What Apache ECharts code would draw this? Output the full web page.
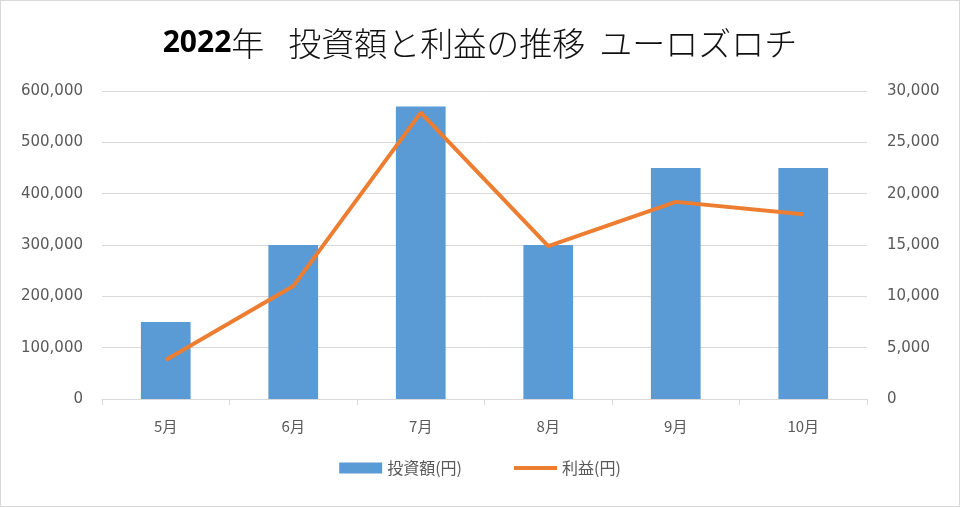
<!DOCTYPE html>
<html>
<head>
<meta charset="utf-8">
<script src="https://cdn.jsdelivr.net/npm/echarts@6/dist/echarts.min.js"></script>
<style>
html,body{margin:0;padding:0;background:#fff;}
#c{width:960px;height:507px;box-sizing:border-box;border:1px solid #d9d9d9;}
</style>
</head>
<body>
<div id="c"></div>
<script>
const categories = ['5月','6月','7月','8月','9月','10月'];
const investment = [150000, 300000, 570000, 300000, 450000, 450000];
const profit = [3800, 11000, 27900, 14900, 19200, 18000];
const leftTicks = {min: 0, max: 600000, interval: 100000};
const rightTicks = {min: 0, max: 30000, interval: 5000};

const font = '"Noto Sans CJK JP", "Noto Sans", sans-serif';
const numFont = '"DejaVu Sans", sans-serif';
const chart = echarts.init(document.getElementById('c'), null, {renderer: 'canvas'});
const fmt = v => v.toLocaleString('en-US');
chart.setOption({
  animation: false,
  textStyle: {fontFamily: font},
  title: {
    text: '{b|2022}{n|年}{g1|}{n|投資額と利益の推移}{g2|}{n|ユーロズロチ}',
    left: 'center',
    top: 21,
    textStyle: {
      rich: {
        b: {fontFamily: '"Open Sans", "Noto Sans", sans-serif', fontWeight: 'bold', fontSize: 30, color: '#000'},
        n: {fontFamily: '"Noto Sans CJK JP", sans-serif', fontSize: 33, color: '#111', fontWeight: 300},
        g1: {width: 24},
        g2: {width: 14}
      }
    }
  },
  legend: {
    bottom: 25,
    left: 'center',
    itemGap: 52,
    itemWidth: 43,
    itemHeight: 11,
    textStyle: {color: '#595959', fontSize: 16, fontFamily: font},
    data: [
      {name: '投資額(円)', icon: 'rect'},
      {name: '利益(円)', icon: 'path://M0,0 L44,0 L44,4 L0,4 Z'}
    ]
  },
  grid: {left: 101, right: 92, top: 90, bottom: 107, containLabel: false},
  xAxis: {
    type: 'category',
    data: categories,
    boundaryGap: true,
    axisLine: {lineStyle: {color: '#d9d9d9', width: 1}},
    axisTick: {show: true, alignWithLabel: false, length: 6, lineStyle: {color: '#d9d9d9'}},
    axisLabel: {color: '#595959', fontSize: 15, margin: 20, fontFamily: font}
  },
  yAxis: [
    {
      type: 'value',
      min: leftTicks.min, max: leftTicks.max, interval: leftTicks.interval,
      axisLine: {show: false},
      axisTick: {show: false},
      splitLine: {lineStyle: {color: '#d9d9d9', width: 1}},
      axisLabel: {color: '#595959', fontSize: 15, margin: 19, formatter: fmt, fontFamily: numFont}
    },
    {
      type: 'value',
      min: rightTicks.min, max: rightTicks.max, interval: rightTicks.interval,
      axisLine: {show: false},
      axisTick: {show: false},
      splitLine: {show: false},
      axisLabel: {color: '#595959', fontSize: 15, margin: 20, formatter: fmt, fontFamily: numFont}
    }
  ],
  series: [
    {
      name: '投資額(円)',
      type: 'bar',
      data: investment,
      yAxisIndex: 0,
      barWidth: '39%',
      itemStyle: {color: '#5b9bd5'}
    },
    {
      name: '利益(円)',
      type: 'line',
      data: profit,
      yAxisIndex: 1,
      symbol: 'none',
      lineStyle: {color: '#ed7d31', width: 4},
      itemStyle: {color: '#ed7d31'}
    }
  ]
});
</script>
</body>
</html>
